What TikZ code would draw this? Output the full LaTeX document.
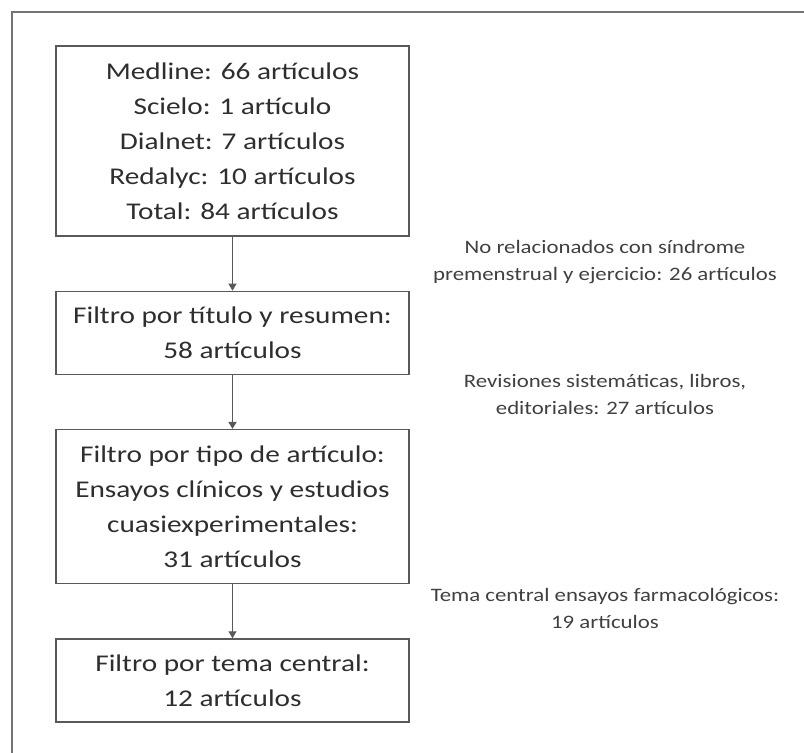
\documentclass[tikz,border=0pt]{standalone}
\usepackage{fontspec}
\setmainfont{Carlito}
\newfontfamily\wideFont[FakeStretch=1.22]{Carlito}
\newfontfamily\noteFont[FakeStretch=1.2]{Carlito}
\usetikzlibrary{arrows.meta,positioning}

\begin{document}
\begin{tikzpicture}[x=1pt,y=-1pt,
				node distance=54pt,
				filterBox/.style={draw=black!65,line width=1.3pt,rectangle,minimum width=353pt,inner sep=0pt,align=center,
					text=black!82,font=\wideFont\fontsize{24}{35}\selectfont},
				sideNote/.style={align=center,text=black!75,font=\noteFont\fontsize{19}{27}\selectfont},
				flow/.style={draw=black!65,line width=1.3pt,-{Triangle[width=8pt,length=7pt]}}]
			\useasboundingbox (0,0) rectangle (804,753);
			% outer frame, only top and left edge are inside the page
			\draw[black!55,line width=1.6pt] (12,760) -- (12,12) -- (810,12);
			% filter boxes
			\node [filterBox,minimum height=190pt] (search) at (232.5,141)
				{Medline: 66 artículos\\Scielo: 1 artículo\\Dialnet: 7 artículos\\Redalyc: 10 artículos\\Total: 84 artículos};
			\node [filterBox,minimum height=83pt,below=of search] (title)
				{Filtro por título y resumen:\\58 artículos};
			\node [filterBox,minimum height=154pt,below=of title] (type)
				{Filtro por tipo de artículo:\\Ensayos clínicos y estudios\\cuasiexperimentales:\\31 artículos};
			\node [filterBox,minimum height=83pt,below=of type] (topic)
				{Filtro por tema central:\\12 artículos};
			% excluded notes
			\node [sideNote] (noteA) at (605,262)
				{No relacionados con síndrome\\premenstrual y ejercicio: 26 artículos};
			\node [sideNote] (noteB) at (605,394)
				{Revisiones sistemáticas, libros,\\editoriales: 27 artículos};
			\node [sideNote] (noteC) at (605,608)
				{Tema central ensayos farmacológicos:\\19 artículos};
			\draw [flow] (search) -- (title);
			\draw [flow] (title) -- (type);
			\draw [flow] (type) -- (topic);
		\end{tikzpicture}
\end{document}
